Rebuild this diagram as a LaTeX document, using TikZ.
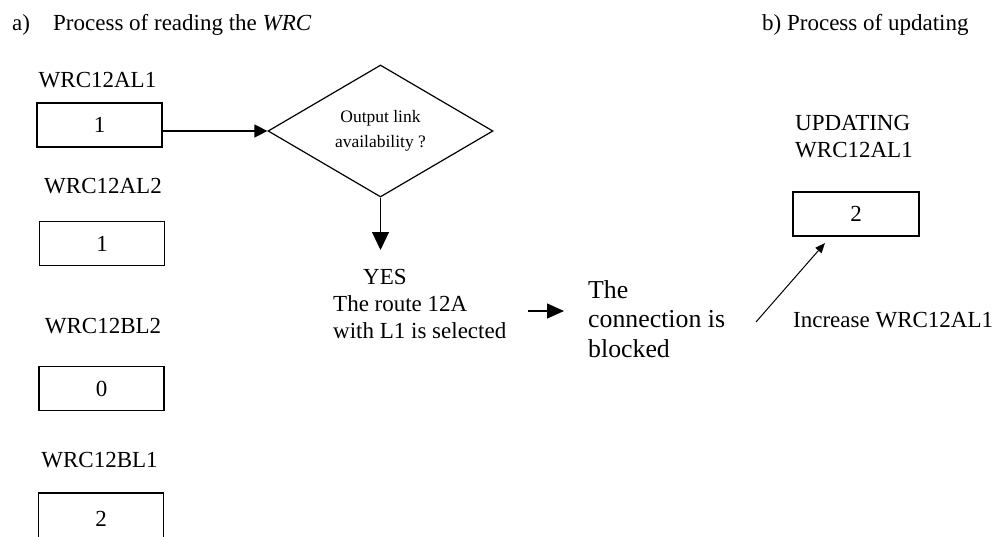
\documentclass[tikz,border=0pt]{standalone}
\usepackage{fontspec}
\setmainfont{Liberation Serif}
\usetikzlibrary{arrows.meta,shapes.geometric}
\begin{document}
\begin{tikzpicture}[x=1pt,y=-1pt,
  txt/.style={font=\fontsize{23}{27}\selectfont, inner sep=0pt},
  valbox/.style={draw, line width=1.2pt, minimum width=125pt, minimum height=44pt, inner sep=0pt, font=\fontsize{23}{27}\selectfont},
  conn/.style={line width=1.2pt},
]
\useasboundingbox (0,0) rectangle (994,536);
\clip (0,0) rectangle (994,536);

% titles
\node[txt, anchor=base west] (ta) at (12,30) {a)};
\node[txt, anchor=base west] (tatitle) at (53,30) {Process of reading the \textit{WRC}};
\node[txt, anchor=base west] (tb) at (762,30) {b) Process of updating};

% counters
\node[txt, anchor=base] (l1) at (97.5,87) {WRC12AL1};
\node[txt, anchor=base] (l2) at (103,193) {WRC12AL2};
\node[txt, anchor=base] (l3) at (103,333) {WRC12BL2};
\node[txt, anchor=base] (l4) at (99.5,467) {WRC12BL1};

\node[valbox] (b1) at (99.5,125) {1};
\node[valbox] (b2) at (102,243.5) {1};
\node[valbox] (b3) at (101.5,388.5) {0};
\node[valbox, minimum height=52pt] (b4) at (101,519) {2};

% decision
\node[draw, diamond, aspect=1.7, line width=1.2pt, minimum width=225pt, minimum height=132pt,
      inner sep=0pt, align=center, font=\fontsize{17.5}{25}\selectfont] (dia) at (380.5,131)
      {Output link\\availability ?};

\draw[conn, -{Triangle[length=13pt,width=13pt]}] (b1.east |- dia.west) -- (dia.west);

\coordinate (yestip) at (380.5,250);
\draw[conn, -{Triangle[length=18pt,width=17pt]}] (dia.south) -- (yestip);

\node[txt, align=left, anchor=north west] (yes) at (333,269.5)
      {\hspace{30pt}YES\\The route 12A\\with L1 is selected};

\coordinate (ra1) at (528,311);
\coordinate (ra2) at (564,311);
\draw[conn, -{Triangle[length=17pt,width=15pt]}] (ra1) -- (ra2);

\node[font=\fontsize{25.8}{29.5}\selectfont, inner sep=0pt, align=left, anchor=north west] (blk) at (588,280)
      {The\\connection is\\blocked};

% updating
\node[txt, align=left, anchor=north west] (upd) at (795,115) {UPDATING\\WRC12AL1};
\node[valbox, minimum width=126pt] (b5) at (856,214) {2};

\coordinate (dg1) at (756,322);
\coordinate (dg2) at (825,243);
\draw[line width=1pt, -{Triangle[length=10pt,width=8pt]}] (dg1) -- (dg2);

\node[txt, anchor=base west] (inc) at (793,327) {Increase WRC12AL1};
\end{tikzpicture}
\end{document}
